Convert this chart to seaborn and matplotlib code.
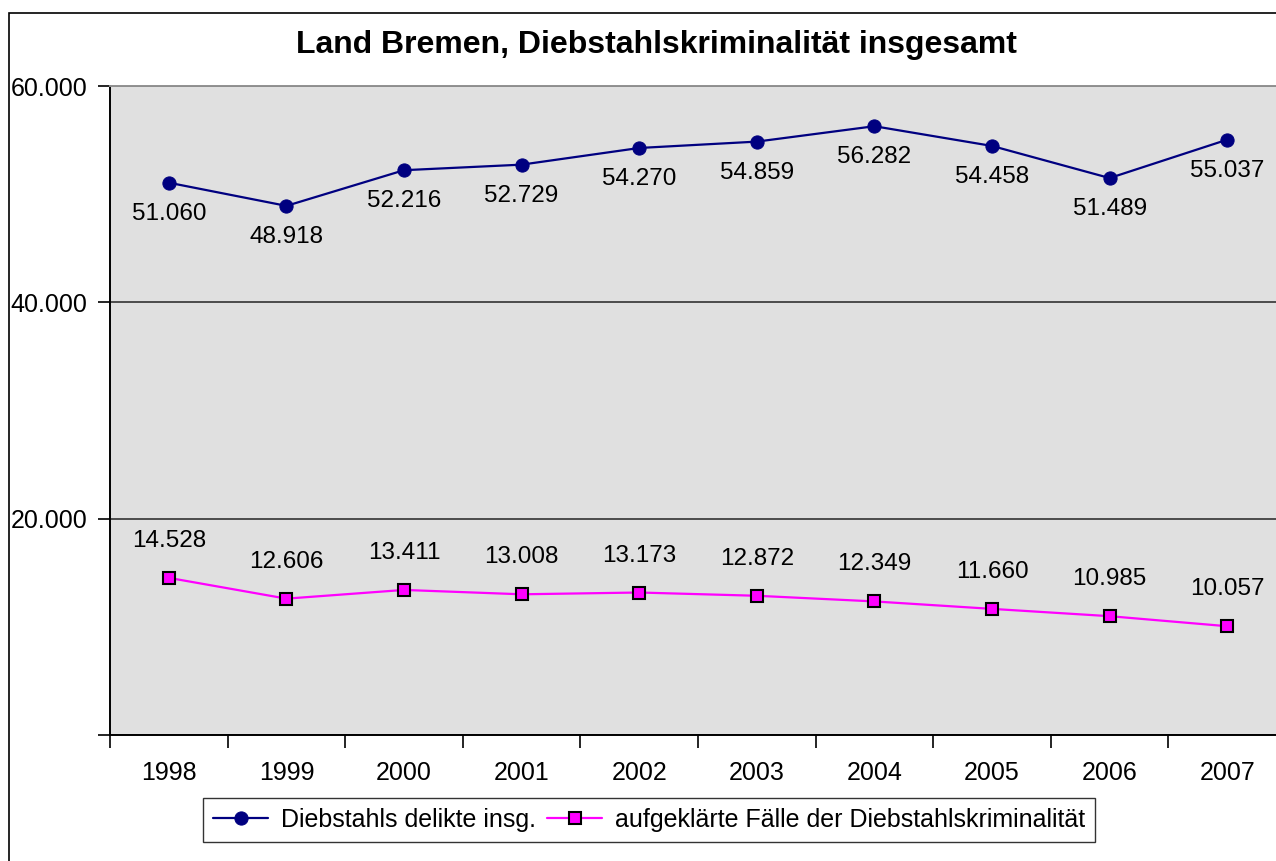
import matplotlib
matplotlib.use("Agg")
import matplotlib.pyplot as plt
import seaborn as sns
import pandas as pd
from matplotlib.patches import Rectangle
from matplotlib.ticker import FixedLocator

# --------------------------------------------------
# DATA
# --------------------------------------------------

years = ["1998", "1999", "2000", "2001", "2002",
         "2003", "2004", "2005", "2006", "2007"]

diebstahl_total = [51060, 48918, 52216, 52729, 54270,
                   54859, 56282, 54458, 51489, 55037]

aufgeklaert = [14528, 12606, 13411, 13008, 13173,
               12872, 12349, 11660, 10985, 10057]

label_total = "Diebstahls delikte insg."
label_clear = "aufgeklärte Fälle der Diebstahlskriminalität"

title = "Land Bremen, Diebstahlskriminalität insgesamt"

y_ticks = [0, 20000, 40000, 60000]


def fmt(v):
    return f"{v:,}".replace(",", ".")


df = pd.DataFrame({
    "pos": range(len(years)),
    "total": diebstahl_total,
    "clear": aufgeklaert,
})

# --------------------------------------------------
# STYLE
# --------------------------------------------------

sns.set_style("white")
plt.rcParams["font.family"] = ["Liberation Sans", "DejaVu Sans"]
plt.rcParams["text.color"] = "black"
plt.rcParams["xtick.color"] = "black"
plt.rcParams["ytick.color"] = "black"

fig = plt.figure(figsize=(12.76, 8.61), dpi=100)

# figure border (cut at right and bottom as in the original)
fig.patches.append(Rectangle((9 / 1276, -0.1), 1.2, 1 - 13 / 861 + 0.1,
                             transform=fig.transFigure, fill=False,
                             edgecolor="black", linewidth=1.2))

ax = fig.add_axes([110 / 1276, 1 - 735 / 861,
                   (1286 - 110) / 1276, (735 - 86) / 861])
ax.set_facecolor("#E0E0E0")

# --------------------------------------------------
# LINES
# --------------------------------------------------

sns.lineplot(data=df, x="pos", y="total", ax=ax, color="#000080",
             marker="o", markersize=9.5, markeredgecolor="#000080",
             linewidth=1.6, label=label_total, zorder=3)

sns.lineplot(data=df, x="pos", y="clear", ax=ax, color="#FF00FF",
             marker="s", markersize=8.5, markeredgecolor="black",
             markeredgewidth=1.5, linewidth=1.6, label=label_clear, zorder=3)

# data labels
for x, v in zip(df["pos"], df["total"]):
    ax.annotate(fmt(v), (x, v), xytext=(0, -31), textcoords="offset pixels",
                ha="center", va="center", fontsize=17.5, color="black")

for x, v in zip(df["pos"], df["clear"]):
    ax.annotate(fmt(v), (x, v), xytext=(0, 37), textcoords="offset pixels",
                ha="center", va="center", fontsize=17.5, color="black")

# --------------------------------------------------
# AXES
# --------------------------------------------------

ax.set_xlim(-0.5, len(years) - 0.5)
ax.set_ylim(0, 60000)

ax.set_xticks(range(len(years)))
ax.set_xticklabels(years, fontsize=18)
ax.xaxis.set_minor_locator(FixedLocator([i - 0.5 for i in range(len(years) + 1)]))
ax.tick_params(axis="x", which="major", length=0, pad=19)
ax.tick_params(axis="x", which="minor", length=9, width=1.2,
               direction="out", color="black", bottom=True)

ax.set_yticks(y_ticks)
ax.set_yticklabels([""] + [fmt(t) for t in y_ticks[1:]], fontsize=18)
ax.tick_params(axis="y", length=9, width=1.2, direction="out",
               color="black", pad=7.5, left=True)

ax.set_xlabel("")
ax.set_ylabel("")

ax.grid(axis="y", color="#333333", linewidth=1.2)
ax.grid(axis="x", visible=False)

for side in ["left", "bottom"]:
    ax.spines[side].set_color("black")
    ax.spines[side].set_linewidth(1.4)
ax.spines["top"].set_color("#909090")
ax.spines["top"].set_linewidth(1.4)
ax.spines["right"].set_visible(False)

# --------------------------------------------------
# LEGEND + TITLE
# --------------------------------------------------

ax.get_legend().remove()
handles, labels = ax.get_legend_handles_labels()
leg = fig.legend(handles, labels, loc="center",
                 bbox_to_anchor=(649 / 1276, 1 - 820 / 861),
                 ncol=2, fontsize=18, frameon=True, fancybox=False,
                 edgecolor="black", handlelength=2.2, columnspacing=0.45,
                 handletextpad=0.5, borderpad=0.4, borderaxespad=0)
leg.get_frame().set_linewidth(1.0)

fig.text(656 / 1276, 1 - 53 / 861, title, ha="center", va="baseline",
         fontsize=23, fontweight="bold")

fig.savefig("out.png", dpi=100)
